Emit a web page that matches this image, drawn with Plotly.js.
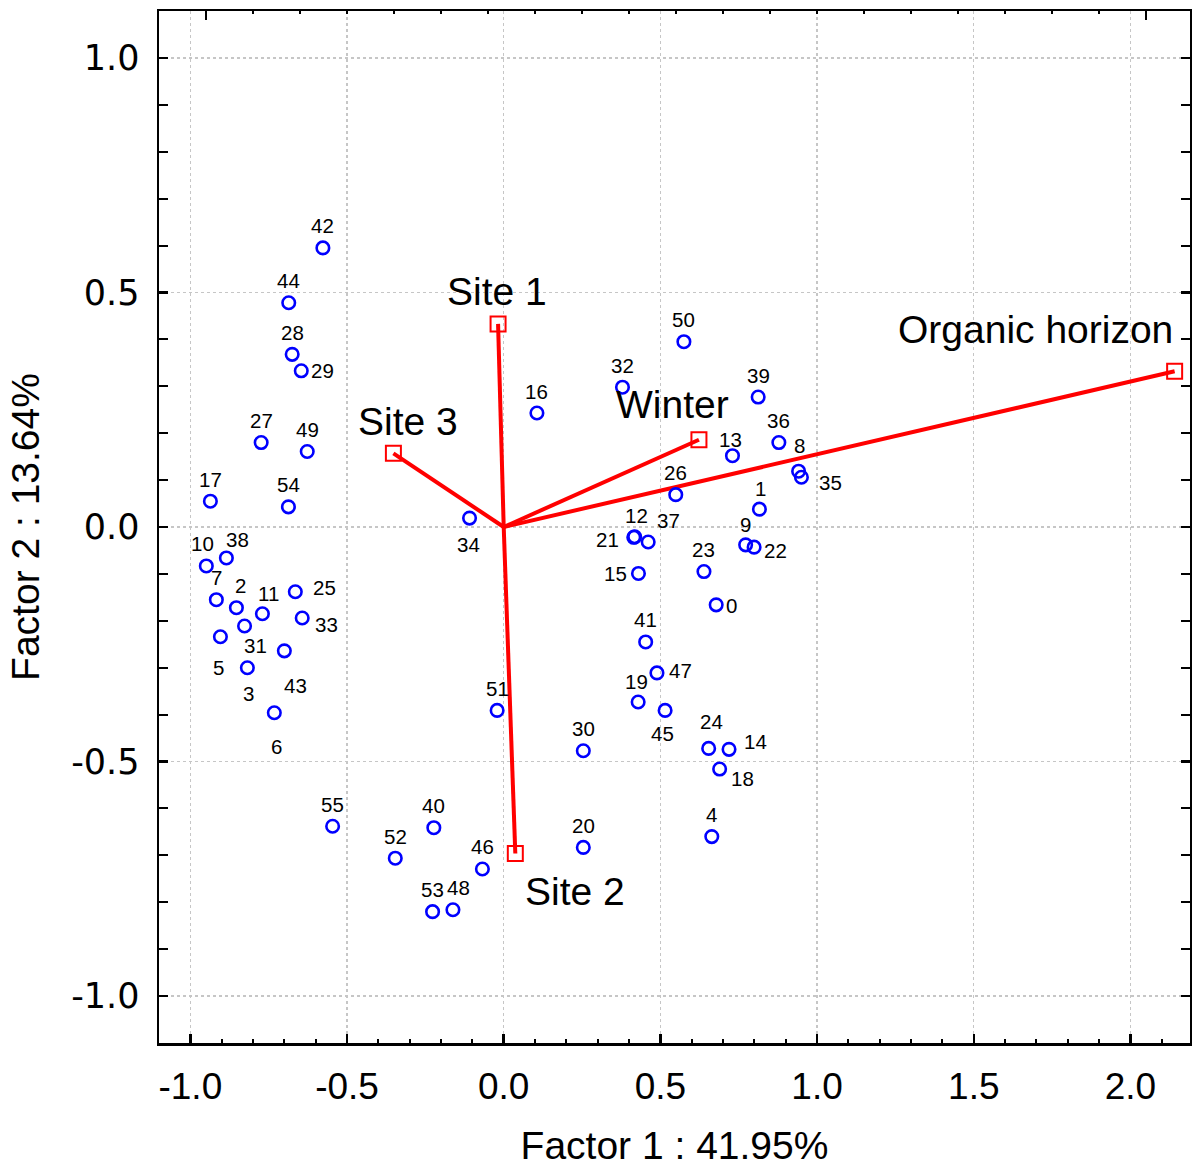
<!DOCTYPE html>
<html>
<head>
<meta charset="utf-8">
<script src="https://cdn.plot.ly/plotly-3.0.1.min.js"></script>
<style>html,body{margin:0;padding:0;background:#fff;}</style>
</head>
<body>
<div id="chart" style="width:1192px;height:1167px;"></div>
<script>
// ---- Data: case scores (Factor 1, Factor 2) ----
const caseLabels = ["0","1","2","3","4","5","6","7","8","9",
  "10","11","12","13","14","15","16","17","18","19",
  "20","21","22","23","24","25","26","27","28","29",
  "30","31","32","33","34","35","36","37","38","39",
  "40","41","42","43","44","45","46","47","48","49",
  "50","51","52","53","54","55"];
const caseF1 = [0.678,0.816,-0.853,-0.818,0.664,-0.904,-0.732,-0.917,0.941,0.772,
  -0.949,-0.770,0.418,0.730,0.719,0.430,0.106,-0.936,0.689,0.429,
  0.254,0.415,0.799,0.639,0.654,-0.665,0.549,-0.774,-0.675,-0.646,
  0.254,-0.827,0.379,-0.643,-0.109,0.950,0.878,0.461,-0.885,0.812,
  -0.223,0.453,-0.577,-0.700,-0.686,0.515,-0.068,0.489,-0.162,-0.627,
  0.575,-0.021,-0.346,-0.227,-0.687,-0.546];
const caseF2 = [-0.166,0.038,-0.172,-0.300,-0.660,-0.234,-0.396,-0.155,0.119,-0.038,
  -0.083,-0.185,-0.021,0.152,-0.474,-0.099,0.243,0.055,-0.516,-0.373,
  -0.683,-0.022,-0.043,-0.095,-0.472,-0.138,0.069,0.180,0.368,0.333,
  -0.477,-0.211,0.298,-0.194,0.019,0.106,0.180,-0.032,-0.066,0.277,
  -0.641,-0.245,0.595,-0.264,0.478,-0.391,-0.729,-0.311,-0.816,0.161,
  0.395,-0.391,-0.706,-0.820,0.043,-0.638];

// ---- Data: variable vectors ----
const varNames = ["Site 1","Site 2","Site 3","Winter","Organic horizon"];
const varF1 = [-0.018, 0.037, -0.352, 0.623, 2.141];
const varF2 = [0.433, -0.696, 0.157, 0.186, 0.332];

// ---- Axis ticks ----
const xTickVals = [-1.0,-0.5,0.0,0.5,1.0,1.5,2.0];
const xTickText = ["-1.0","-0.5","0.0","0.5","1.0","1.5","2.0"];
const yTickVals = [-1.0,-0.5,0.0,0.5,1.0];
const yTickText = ["-1.0","-0.5","0.0","0.5","1.0"];

// ---- Styling: label offsets in px [dx, dy(up)] ----
const DEFAULT_SHIFT = [0, 22];
const labelShift = {
  "0":[15,-1], "10":[-4,22], "21":[-26,-2], "15":[-23,0], "12":[2,21],
  "22":[21,-3], "25":[29,4], "29":[21,0], "33":[24,-6],
  "35":[29,-5], "38":[11,18], "37":[20,22], "47":[24,2],
  "14":[26,8], "18":[23,-9], "2":[4,22], "11":[6,20], "13":[-2,16],
  "8":[1,26], "24":[3,27], "48":[6,22], "9":[0,20], "1":[1,21], "19":[-2,20],
  "31":[11,-20], "5":[-2,-31], "3":[1,-26], "43":[11,-35],
  "6":[2,-34], "34":[-1,-26], "45":[-3,-23]
};

const FONT = "Arial, 'Liberation Sans', sans-serif";

// vectors as line segments from the origin
const lineX = [], lineY = [];
varF1.forEach((v,i) => { lineX.push(0, v, null); lineY.push(0, varF2[i], null); });

const traces = [
  {
    type:"scatter", mode:"lines", x:lineX, y:lineY, hoverinfo:"skip",
    line:{color:"#ff0000", width:4}
  },
  {
    type:"scatter", mode:"markers", x:varF1, y:varF2, text:varNames,
    marker:{symbol:"square-open", size:15, color:"#ff0000", line:{width:2, color:"#ff0000"}}
  },
  {
    type:"scatter", mode:"markers", x:caseF1, y:caseF2, text:caseLabels,
    marker:{symbol:"circle-open", size:12.5, color:"#0000ff", line:{width:2.6, color:"#0000ff"}}
  }
];

const annotations = [];
caseLabels.forEach((l,i) => {
  const s = labelShift[l] || DEFAULT_SHIFT;
  annotations.push({
    x:caseF1[i], y:caseF2[i], text:l, showarrow:false,
    xanchor:"center", yanchor:"middle", xshift:s[0], yshift:s[1],
    font:{family:FONT, size:20.5, color:"#000"}
  });
});
const varShift = [[-1,32],[60,-38],[15,32],[-26,35],[-139,42]];
varNames.forEach((n,i) => {
  annotations.push({
    x:varF1[i], y:varF2[i], text:n, showarrow:false,
    xanchor:"center", yanchor:"middle", borderpad:0,
    xshift:varShift[i][0], yshift:varShift[i][1],
    font:{family:FONT, size:39, color:"#000"}
  });
});

const axisCommon = {
  tickmode:"array", ticks:"inside", ticklen:9, tickwidth:2.5, tickcolor:"#000",
  showline:true, linewidth:2.5, linecolor:"#000", mirror:true,
  showgrid:true, gridcolor:"#c6c6c6", gridwidth:1.2, griddash:"dot",
  zeroline:false,
  minor:{tickmode:"linear", tick0:0, dtick:0.1, ticks:"inside", ticklen:4, tickwidth:2, tickcolor:"#000", showgrid:false}
};

const layout = {
  width:1192, height:1167,
  margin:{l:159, r:2, t:11, b:124},
  paper_bgcolor:"#fff", plot_bgcolor:"#fff",
  showlegend:false, hovermode:false,
  xaxis:Object.assign({}, axisCommon, {
    range:[-1.1, 2.19], tickvals:xTickVals, ticktext:xTickText,
    tickfont:{family:FONT, size:37, color:"#000"},
    ticklabelstandoff:9,
    title:{text:"Factor 1 : 41.95%", font:{family:FONT, size:39, color:"#000"}, standoff:26}
  }),
  yaxis:Object.assign({}, axisCommon, {
    range:[-1.1, 1.1], tickvals:yTickVals, ticktext:yTickText,
    mirror:"allticks",
    tickfont:{family:"'DejaVu Sans', sans-serif", size:35, color:"#000"},
    ticklabelstandoff:10,
    title:{text:"Factor 2 : 13.64%", font:{family:FONT, size:39, color:"#000"}, standoff:20}
  }),
  xaxis2:{
    overlaying:"x", side:"top", range:[-1.1, 2.19],
    tickmode:"array", tickvals:[-0.95, 2.05], ticks:"inside", ticklen:9, tickwidth:2.5, tickcolor:"#000",
    minor:{tickmode:"linear", tick0:-0.95, dtick:0.15, ticks:"inside", ticklen:3, tickwidth:2.5, tickcolor:"#000", showgrid:false},
    showticklabels:false, showgrid:false, zeroline:false, showline:false
  },
  annotations:annotations
};

traces.push({type:"scatter", mode:"markers", x:[], y:[], xaxis:"x2", yaxis:"y", showlegend:false, hoverinfo:"skip"});

Plotly.newPlot("chart", traces, layout, {staticPlot:true, displayModeBar:false});
</script>
</body>
</html>
